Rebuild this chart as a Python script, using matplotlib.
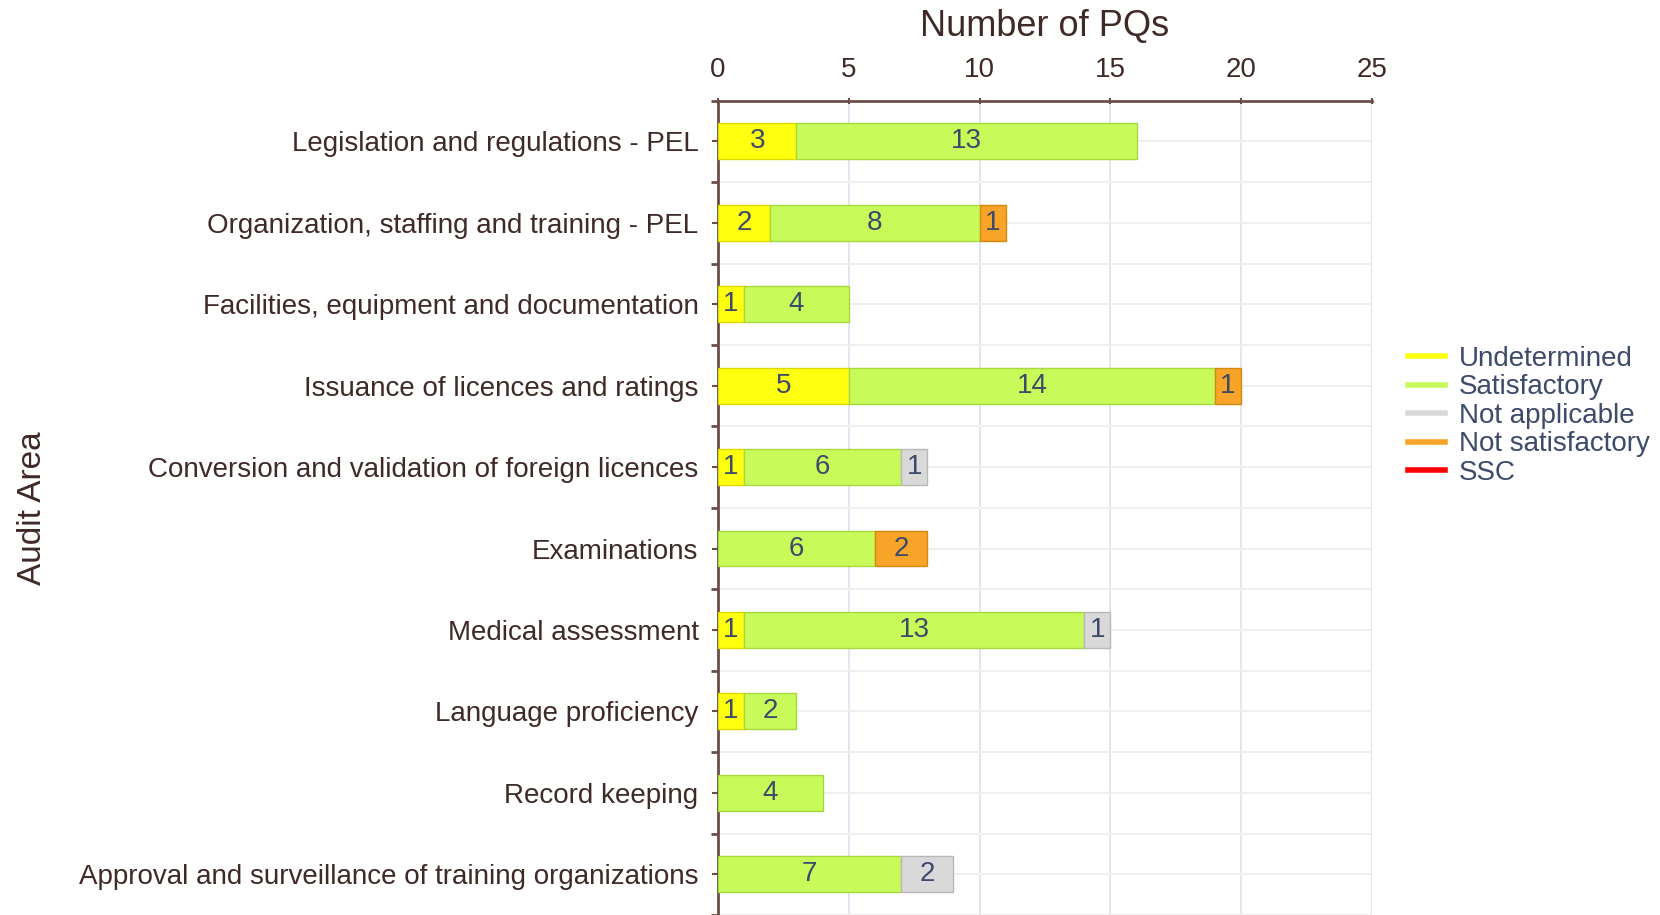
import matplotlib
matplotlib.use("Agg")
import matplotlib.pyplot as plt
import numpy as np
from matplotlib.lines import Line2D

plt.rcParams['font.family'] = ['Liberation Sans', 'DejaVu Sans']

areas = ["Legislation and regulations - PEL",
         "Organization, staffing and training - PEL",
         "Facilities, equipment and documentation",
         "Issuance of licences and ratings",
         "Conversion and validation of foreign licences",
         "Examinations",
         "Medical assessment",
         "Language proficiency",
         "Record keeping",
         "Approval and surveillance of training organizations"]

undetermined = [3, 2, 1, 5, 1, 0, 1, 1, 0, 0]
satisfactory = [13, 8, 4, 14, 6, 6, 13, 2, 4, 7]
not_applicable = [0, 0, 0, 0, 1, 0, 1, 0, 0, 2]
not_satisfactory = [0, 1, 0, 1, 0, 2, 0, 0, 0, 0]
ssc = [0, 0, 0, 0, 0, 0, 0, 0, 0, 0]

series_names = ["Undetermined", "Satisfactory", "Not applicable", "Not satisfactory", "SSC"]
series = [undetermined, satisfactory, not_applicable, not_satisfactory, ssc]
colors = ["#ffff10", "#c8fb5a", "#d9d9d9", "#f7a428", "#ff0000"]
edges = ["#e0d800", "#a8d840", "#b8b8b8", "#d88810", "#cc0000"]

axis_col = "#6b4d48"
label_col = "#3f2a28"
num_col = "#3d4a6a"

fig = plt.figure(figsize=(16.6, 9.15), dpi=100)
ax = fig.add_axes([0.4325, 0.0, 0.394, 0.89])

y = np.arange(len(areas))
left = np.zeros(len(areas))
for name, vals, c, ec in zip(series_names, series, colors, edges):
    vals = np.array(vals, dtype=float)
    for i in range(len(areas)):
        v = vals[i]
        if v <= 0:
            continue
        ax.barh(y[i], v, left=left[i], height=0.44, color=c, edgecolor=ec,
                linewidth=1, zorder=3)
        ax.text(left[i] + v / 2, y[i], "%d" % v, ha="center", va="center",
                fontsize=20, color=num_col, zorder=4)
    left += vals

ax.set_xlim(0, 25)
ax.set_ylim(len(areas) - 0.5, -0.5)
ax.xaxis.tick_top()
ax.xaxis.set_label_position("top")
ax.set_xticks([0, 5, 10, 15, 20, 25])
ax.set_xlabel("Number of PQs", fontsize=26, color=label_col, labelpad=15)
ax.set_yticks(y)
ax.set_yticklabels(areas, fontsize=20, color=label_col)
ax.set_yticks(np.arange(len(areas) + 1) - 0.5, minor=True)
ax.set_ylabel("Audit Area", fontsize=24, color=label_col)
ax.yaxis.set_label_coords(-1.025, 0.5)

ax.tick_params(axis="x", colors=axis_col, labelcolor=label_col, labelsize=20,
               length=5, width=1.5, direction="inout", pad=10)
ax.tick_params(axis="y", which="major", colors=axis_col, labelcolor=label_col,
               length=4, width=1.5, pad=10)
ax.tick_params(axis="y", which="minor", colors=axis_col, length=5, width=2)

for s in ["right", "bottom"]:
    ax.spines[s].set_visible(False)
for s in ["top", "left"]:
    ax.spines[s].set_color(axis_col)
    ax.spines[s].set_linewidth(2)

ax.grid(axis="x", color="#dce3ee", linewidth=1.2, zorder=0)
ax.grid(axis="y", which="both", color="#efefef", linewidth=1.5, zorder=0)

handles = [Line2D([0], [0], color=c, linewidth=4) for c in colors]
leg = fig.legend(handles, series_names, loc="upper left",
                 bbox_to_anchor=(0.848, 0.622), frameon=False, fontsize=20,
                 handlelength=1.33, handletextpad=0.5, labelspacing=0.09,
                 borderaxespad=0, borderpad=0)
for t in leg.get_texts():
    t.set_color(num_col)

fig.savefig("out.png", dpi=100)
